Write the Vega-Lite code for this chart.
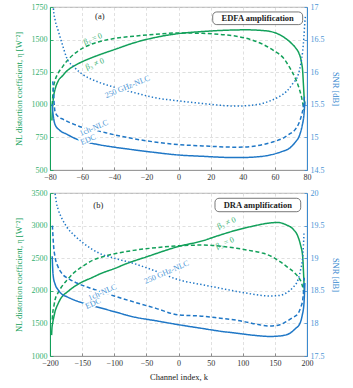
{
"$schema":"https://vega.github.io/schema/vega-lite/v6.json",
"background":"white",
"padding":{"left":13,"top":2,"right":4,"bottom":4},
"spacing":6,
"config":{
 "font":"Liberation Serif",
 "view":{"stroke":"#9a9a9a","strokeWidth":0.8},
 "axis":{"labelFont":"Liberation Serif","titleFont":"Liberation Serif","labelFontSize":8,"titleFontSize":8.5,"titleFontWeight":"normal","ticks":true,"tickSize":-3,"tickWidth":0.8,"labelPadding":6,"labelOverlap":false,"tickCount":30,"gridDash":[3,2.5],"gridColor":"#d2d2d2","gridWidth":0.7,"domainWidth":1}
},
"datasets":{
 "curves":[
  {"p":"a","ax":"L","s":"b3ne0","k":-78.8,"v":880},{"p":"a","ax":"L","s":"b3ne0","k":-78.6,"v":940},{"p":"a","ax":"L","s":"b3ne0","k":-78.3,"v":1000},{"p":"a","ax":"L","s":"b3ne0","k":-77.8,"v":1060},{"p":"a","ax":"L","s":"b3ne0","k":-76.8,"v":1120},{"p":"a","ax":"L","s":"b3ne0","k":-75,"v":1180},{"p":"a","ax":"L","s":"b3ne0","k":-72,"v":1225},{"p":"a","ax":"L","s":"b3ne0","k":-69.6,"v":1258},{"p":"a","ax":"L","s":"b3ne0","k":-65,"v":1298},{"p":"a","ax":"L","s":"b3ne0","k":-59.3,"v":1334},{"p":"a","ax":"L","s":"b3ne0","k":-50,"v":1380},{"p":"a","ax":"L","s":"b3ne0","k":-40,"v":1423},{"p":"a","ax":"L","s":"b3ne0","k":-28,"v":1474},{"p":"a","ax":"L","s":"b3ne0","k":-15,"v":1515},{"p":"a","ax":"L","s":"b3ne0","k":0,"v":1546},{"p":"a","ax":"L","s":"b3ne0","k":15,"v":1562},{"p":"a","ax":"L","s":"b3ne0","k":30,"v":1572},{"p":"a","ax":"L","s":"b3ne0","k":42,"v":1575},{"p":"a","ax":"L","s":"b3ne0","k":52,"v":1570},{"p":"a","ax":"L","s":"b3ne0","k":60,"v":1553},{"p":"a","ax":"L","s":"b3ne0","k":66,"v":1515},{"p":"a","ax":"L","s":"b3ne0","k":70,"v":1475},{"p":"a","ax":"L","s":"b3ne0","k":73,"v":1435},{"p":"a","ax":"L","s":"b3ne0","k":75,"v":1395},{"p":"a","ax":"L","s":"b3ne0","k":76.5,"v":1330},{"p":"a","ax":"L","s":"b3ne0","k":77.3,"v":1258},{"p":"a","ax":"L","s":"b3ne0","k":77.8,"v":1150},{"p":"a","ax":"L","s":"b3ne0","k":78.2,"v":1060},{"p":"a","ax":"L","s":"b3ne0","k":78.5,"v":1000},
  {"p":"a","ax":"L","s":"b3eq0","k":-78.7,"v":1000},{"p":"a","ax":"L","s":"b3eq0","k":-78.3,"v":1060},{"p":"a","ax":"L","s":"b3eq0","k":-78,"v":1118},{"p":"a","ax":"L","s":"b3eq0","k":-77,"v":1180},{"p":"a","ax":"L","s":"b3eq0","k":-74.8,"v":1245},{"p":"a","ax":"L","s":"b3eq0","k":-72,"v":1295},{"p":"a","ax":"L","s":"b3eq0","k":-69.6,"v":1334},{"p":"a","ax":"L","s":"b3eq0","k":-65,"v":1390},{"p":"a","ax":"L","s":"b3eq0","k":-59.3,"v":1436},{"p":"a","ax":"L","s":"b3eq0","k":-50,"v":1482},{"p":"a","ax":"L","s":"b3eq0","k":-40,"v":1508},{"p":"a","ax":"L","s":"b3eq0","k":-28,"v":1526},{"p":"a","ax":"L","s":"b3eq0","k":-15,"v":1540},{"p":"a","ax":"L","s":"b3eq0","k":0,"v":1551},{"p":"a","ax":"L","s":"b3eq0","k":15,"v":1548},{"p":"a","ax":"L","s":"b3eq0","k":25,"v":1540},{"p":"a","ax":"L","s":"b3eq0","k":36,"v":1526},{"p":"a","ax":"L","s":"b3eq0","k":45,"v":1500},{"p":"a","ax":"L","s":"b3eq0","k":52.8,"v":1462},{"p":"a","ax":"L","s":"b3eq0","k":60,"v":1410},{"p":"a","ax":"L","s":"b3eq0","k":65.2,"v":1360},{"p":"a","ax":"L","s":"b3eq0","k":69,"v":1290},{"p":"a","ax":"L","s":"b3eq0","k":72.6,"v":1207},{"p":"a","ax":"L","s":"b3eq0","k":75,"v":1130},{"p":"a","ax":"L","s":"b3eq0","k":76.7,"v":1053},{"p":"a","ax":"L","s":"b3eq0","k":77.7,"v":990},{"p":"a","ax":"L","s":"b3eq0","k":78.2,"v":960},
  {"p":"a","ax":"R","s":"g250","k":-78.3,"v":17.2},{"p":"a","ax":"R","s":"g250","k":-77.9,"v":16.98},{"p":"a","ax":"R","s":"g250","k":-76.8,"v":16.8},{"p":"a","ax":"R","s":"g250","k":-74.8,"v":16.63},{"p":"a","ax":"R","s":"g250","k":-72,"v":16.4},{"p":"a","ax":"R","s":"g250","k":-69.6,"v":16.22},{"p":"a","ax":"R","s":"g250","k":-65,"v":16.08},{"p":"a","ax":"R","s":"g250","k":-59.3,"v":15.96},{"p":"a","ax":"R","s":"g250","k":-50,"v":15.85},{"p":"a","ax":"R","s":"g250","k":-40,"v":15.77},{"p":"a","ax":"R","s":"g250","k":-28,"v":15.69},{"p":"a","ax":"R","s":"g250","k":-15,"v":15.61},{"p":"a","ax":"R","s":"g250","k":0,"v":15.56},{"p":"a","ax":"R","s":"g250","k":15,"v":15.52},{"p":"a","ax":"R","s":"g250","k":36,"v":15.48},{"p":"a","ax":"R","s":"g250","k":48,"v":15.5},{"p":"a","ax":"R","s":"g250","k":57,"v":15.56},{"p":"a","ax":"R","s":"g250","k":63,"v":15.63},{"p":"a","ax":"R","s":"g250","k":67.4,"v":15.71},{"p":"a","ax":"R","s":"g250","k":71,"v":15.82},{"p":"a","ax":"R","s":"g250","k":74.6,"v":15.97},{"p":"a","ax":"R","s":"g250","k":76.3,"v":16.15},{"p":"a","ax":"R","s":"g250","k":77.3,"v":16.32},{"p":"a","ax":"R","s":"g250","k":78.1,"v":16.55},{"p":"a","ax":"R","s":"g250","k":78.7,"v":16.78},{"p":"a","ax":"R","s":"g250","k":79,"v":16.85},
  {"p":"a","ax":"R","s":"ch1","k":-78.3,"v":15.86},{"p":"a","ax":"R","s":"ch1","k":-78,"v":15.78},{"p":"a","ax":"R","s":"ch1","k":-77.5,"v":15.55},{"p":"a","ax":"R","s":"ch1","k":-76.9,"v":15.4},{"p":"a","ax":"R","s":"ch1","k":-75,"v":15.32},{"p":"a","ax":"R","s":"ch1","k":-72,"v":15.28},{"p":"a","ax":"R","s":"ch1","k":-69.6,"v":15.25},{"p":"a","ax":"R","s":"ch1","k":-65,"v":15.2},{"p":"a","ax":"R","s":"ch1","k":-59.3,"v":15.15},{"p":"a","ax":"R","s":"ch1","k":-50,"v":15.1},{"p":"a","ax":"R","s":"ch1","k":-40,"v":15.04},{"p":"a","ax":"R","s":"ch1","k":-28,"v":14.98},{"p":"a","ax":"R","s":"ch1","k":-15,"v":14.93},{"p":"a","ax":"R","s":"ch1","k":0,"v":14.89},{"p":"a","ax":"R","s":"ch1","k":15,"v":14.87},{"p":"a","ax":"R","s":"ch1","k":36,"v":14.85},{"p":"a","ax":"R","s":"ch1","k":45,"v":14.86},{"p":"a","ax":"R","s":"ch1","k":52.7,"v":14.89},{"p":"a","ax":"R","s":"ch1","k":60,"v":14.94},{"p":"a","ax":"R","s":"ch1","k":65.3,"v":14.99},{"p":"a","ax":"R","s":"ch1","k":69,"v":15.05},{"p":"a","ax":"R","s":"ch1","k":72.6,"v":15.12},{"p":"a","ax":"R","s":"ch1","k":75,"v":15.22},{"p":"a","ax":"R","s":"ch1","k":76.7,"v":15.35},{"p":"a","ax":"R","s":"ch1","k":77.6,"v":15.45},{"p":"a","ax":"R","s":"ch1","k":78.1,"v":15.56},{"p":"a","ax":"R","s":"ch1","k":78.5,"v":15.65},
  {"p":"a","ax":"R","s":"edc","k":-78.7,"v":15.51},{"p":"a","ax":"R","s":"edc","k":-78.3,"v":15.4},{"p":"a","ax":"R","s":"edc","k":-77.8,"v":15.3},{"p":"a","ax":"R","s":"edc","k":-76.9,"v":15.2},{"p":"a","ax":"R","s":"edc","k":-74,"v":15.11},{"p":"a","ax":"R","s":"edc","k":-69.6,"v":15.05},{"p":"a","ax":"R","s":"edc","k":-65,"v":14.99},{"p":"a","ax":"R","s":"edc","k":-59.3,"v":14.94},{"p":"a","ax":"R","s":"edc","k":-50,"v":14.89},{"p":"a","ax":"R","s":"edc","k":-40,"v":14.85},{"p":"a","ax":"R","s":"edc","k":-28,"v":14.81},{"p":"a","ax":"R","s":"edc","k":-15,"v":14.77},{"p":"a","ax":"R","s":"edc","k":0,"v":14.73},{"p":"a","ax":"R","s":"edc","k":15,"v":14.71},{"p":"a","ax":"R","s":"edc","k":36,"v":14.69},{"p":"a","ax":"R","s":"edc","k":48,"v":14.7},{"p":"a","ax":"R","s":"edc","k":57,"v":14.73},{"p":"a","ax":"R","s":"edc","k":64,"v":14.78},{"p":"a","ax":"R","s":"edc","k":69.4,"v":14.84},{"p":"a","ax":"R","s":"edc","k":72.5,"v":14.92},{"p":"a","ax":"R","s":"edc","k":75.6,"v":15.05},{"p":"a","ax":"R","s":"edc","k":77,"v":15.18},{"p":"a","ax":"R","s":"edc","k":78.1,"v":15.35},{"p":"a","ax":"R","s":"edc","k":78.7,"v":15.55},
  {"p":"b","ax":"L","s":"b3ne0","k":-197.5,"v":1320},{"p":"b","ax":"L","s":"b3ne0","k":-197,"v":1420},{"p":"b","ax":"L","s":"b3ne0","k":-195.8,"v":1510},{"p":"b","ax":"L","s":"b3ne0","k":-194,"v":1600},{"p":"b","ax":"L","s":"b3ne0","k":-192.2,"v":1680},{"p":"b","ax":"L","s":"b3ne0","k":-188,"v":1790},{"p":"b","ax":"L","s":"b3ne0","k":-184,"v":1870},{"p":"b","ax":"L","s":"b3ne0","k":-180,"v":1925},{"p":"b","ax":"L","s":"b3ne0","k":-174,"v":1975},{"p":"b","ax":"L","s":"b3ne0","k":-165,"v":2045},{"p":"b","ax":"L","s":"b3ne0","k":-153,"v":2120},{"p":"b","ax":"L","s":"b3ne0","k":-135,"v":2200},{"p":"b","ax":"L","s":"b3ne0","k":-122,"v":2260},{"p":"b","ax":"L","s":"b3ne0","k":-100,"v":2340},{"p":"b","ax":"L","s":"b3ne0","k":-80,"v":2420},{"p":"b","ax":"L","s":"b3ne0","k":-50,"v":2520},{"p":"b","ax":"L","s":"b3ne0","k":0,"v":2680},{"p":"b","ax":"L","s":"b3ne0","k":38.6,"v":2770},{"p":"b","ax":"L","s":"b3ne0","k":60,"v":2840},{"p":"b","ax":"L","s":"b3ne0","k":90,"v":2930},{"p":"b","ax":"L","s":"b3ne0","k":115,"v":2990},{"p":"b","ax":"L","s":"b3ne0","k":142,"v":3040},{"p":"b","ax":"L","s":"b3ne0","k":155,"v":3048},{"p":"b","ax":"L","s":"b3ne0","k":168,"v":3010},{"p":"b","ax":"L","s":"b3ne0","k":178,"v":2950},{"p":"b","ax":"L","s":"b3ne0","k":186,"v":2830},{"p":"b","ax":"L","s":"b3ne0","k":190,"v":2700},{"p":"b","ax":"L","s":"b3ne0","k":193.3,"v":2523},{"p":"b","ax":"L","s":"b3ne0","k":194.5,"v":2300},{"p":"b","ax":"L","s":"b3ne0","k":195.3,"v":2115},{"p":"b","ax":"L","s":"b3ne0","k":195.8,"v":2000},
  {"p":"b","ax":"L","s":"b3eq0","k":-196.5,"v":1560},{"p":"b","ax":"L","s":"b3eq0","k":-195.8,"v":1655},{"p":"b","ax":"L","s":"b3eq0","k":-194,"v":1760},{"p":"b","ax":"L","s":"b3eq0","k":-192.2,"v":1859},{"p":"b","ax":"L","s":"b3eq0","k":-188,"v":1960},{"p":"b","ax":"L","s":"b3eq0","k":-181.8,"v":2063},{"p":"b","ax":"L","s":"b3eq0","k":-173,"v":2170},{"p":"b","ax":"L","s":"b3eq0","k":-163.7,"v":2268},{"p":"b","ax":"L","s":"b3eq0","k":-150,"v":2370},{"p":"b","ax":"L","s":"b3eq0","k":-132.6,"v":2472},{"p":"b","ax":"L","s":"b3eq0","k":-115,"v":2530},{"p":"b","ax":"L","s":"b3eq0","k":-96,"v":2575},{"p":"b","ax":"L","s":"b3eq0","k":-70,"v":2620},{"p":"b","ax":"L","s":"b3eq0","k":-44,"v":2652},{"p":"b","ax":"L","s":"b3eq0","k":0,"v":2690},{"p":"b","ax":"L","s":"b3eq0","k":38.6,"v":2702},{"p":"b","ax":"L","s":"b3eq0","k":65,"v":2685},{"p":"b","ax":"L","s":"b3eq0","k":90.6,"v":2652},{"p":"b","ax":"L","s":"b3eq0","k":115,"v":2610},{"p":"b","ax":"L","s":"b3eq0","k":132,"v":2575},{"p":"b","ax":"L","s":"b3eq0","k":146,"v":2520},{"p":"b","ax":"L","s":"b3eq0","k":158,"v":2446},{"p":"b","ax":"L","s":"b3eq0","k":170,"v":2360},{"p":"b","ax":"L","s":"b3eq0","k":181.4,"v":2268},{"p":"b","ax":"L","s":"b3eq0","k":188,"v":2190},{"p":"b","ax":"L","s":"b3eq0","k":191.7,"v":2115},{"p":"b","ax":"L","s":"b3eq0","k":194.3,"v":2012},{"p":"b","ax":"L","s":"b3eq0","k":195.5,"v":1950},
  {"p":"b","ax":"R","s":"g250","k":-193.5,"v":20.1},{"p":"b","ax":"R","s":"g250","k":-192.2,"v":20.0},{"p":"b","ax":"R","s":"g250","k":-190,"v":19.85},{"p":"b","ax":"R","s":"g250","k":-187,"v":19.74},{"p":"b","ax":"R","s":"g250","k":-181,"v":19.6},{"p":"b","ax":"R","s":"g250","k":-174,"v":19.48},{"p":"b","ax":"R","s":"g250","k":-162,"v":19.35},{"p":"b","ax":"R","s":"g250","k":-148,"v":19.23},{"p":"b","ax":"R","s":"g250","k":-135,"v":19.14},{"p":"b","ax":"R","s":"g250","k":-122,"v":19.07},{"p":"b","ax":"R","s":"g250","k":-100,"v":19.0},{"p":"b","ax":"R","s":"g250","k":-70,"v":18.92},{"p":"b","ax":"R","s":"g250","k":-35,"v":18.8},{"p":"b","ax":"R","s":"g250","k":0,"v":18.67},{"p":"b","ax":"R","s":"g250","k":38.6,"v":18.59},{"p":"b","ax":"R","s":"g250","k":65,"v":18.54},{"p":"b","ax":"R","s":"g250","k":90.6,"v":18.49},{"p":"b","ax":"R","s":"g250","k":115,"v":18.45},{"p":"b","ax":"R","s":"g250","k":142,"v":18.42},{"p":"b","ax":"R","s":"g250","k":158,"v":18.43},{"p":"b","ax":"R","s":"g250","k":168,"v":18.47},{"p":"b","ax":"R","s":"g250","k":178,"v":18.55},{"p":"b","ax":"R","s":"g250","k":186,"v":18.67},{"p":"b","ax":"R","s":"g250","k":190,"v":18.82},{"p":"b","ax":"R","s":"g250","k":193.3,"v":19.02},{"p":"b","ax":"R","s":"g250","k":194.5,"v":19.2},{"p":"b","ax":"R","s":"g250","k":195.3,"v":19.38},
  {"p":"b","ax":"R","s":"ch1","k":-196.3,"v":19.5},{"p":"b","ax":"R","s":"ch1","k":-195.8,"v":19.41},{"p":"b","ax":"R","s":"ch1","k":-194.5,"v":19.2},{"p":"b","ax":"R","s":"ch1","k":-192.2,"v":19.02},{"p":"b","ax":"R","s":"ch1","k":-188,"v":18.88},{"p":"b","ax":"R","s":"ch1","k":-181.8,"v":18.77},{"p":"b","ax":"R","s":"ch1","k":-170,"v":18.68},{"p":"b","ax":"R","s":"ch1","k":-158.5,"v":18.62},{"p":"b","ax":"R","s":"ch1","k":-140,"v":18.55},{"p":"b","ax":"R","s":"ch1","k":-122,"v":18.49},{"p":"b","ax":"R","s":"ch1","k":-100,"v":18.42},{"p":"b","ax":"R","s":"ch1","k":-70,"v":18.33},{"p":"b","ax":"R","s":"ch1","k":-35,"v":18.23},{"p":"b","ax":"R","s":"ch1","k":0,"v":18.13},{"p":"b","ax":"R","s":"ch1","k":38.6,"v":18.11},{"p":"b","ax":"R","s":"ch1","k":65,"v":18.08},{"p":"b","ax":"R","s":"ch1","k":90.6,"v":18.05},{"p":"b","ax":"R","s":"ch1","k":115,"v":18.0},{"p":"b","ax":"R","s":"ch1","k":142,"v":17.96},{"p":"b","ax":"R","s":"ch1","k":158,"v":17.98},{"p":"b","ax":"R","s":"ch1","k":168,"v":18.03},{"p":"b","ax":"R","s":"ch1","k":178,"v":18.09},{"p":"b","ax":"R","s":"ch1","k":186,"v":18.15},{"p":"b","ax":"R","s":"ch1","k":190,"v":18.24},{"p":"b","ax":"R","s":"ch1","k":193.3,"v":18.36},{"p":"b","ax":"R","s":"ch1","k":194.5,"v":18.48},{"p":"b","ax":"R","s":"ch1","k":195.3,"v":18.61},{"p":"b","ax":"R","s":"ch1","k":195.8,"v":18.7},
  {"p":"b","ax":"R","s":"edc","k":-196.6,"v":19.03},{"p":"b","ax":"R","s":"edc","k":-196.2,"v":18.93},{"p":"b","ax":"R","s":"edc","k":-195.6,"v":18.8},{"p":"b","ax":"R","s":"edc","k":-194.9,"v":18.72},{"p":"b","ax":"R","s":"edc","k":-192,"v":18.6},{"p":"b","ax":"R","s":"edc","k":-187,"v":18.51},{"p":"b","ax":"R","s":"edc","k":-181.8,"v":18.45},{"p":"b","ax":"R","s":"edc","k":-174,"v":18.41},{"p":"b","ax":"R","s":"edc","k":-160,"v":18.35},{"p":"b","ax":"R","s":"edc","k":-148,"v":18.31},{"p":"b","ax":"R","s":"edc","k":-122,"v":18.24},{"p":"b","ax":"R","s":"edc","k":-100,"v":18.18},{"p":"b","ax":"R","s":"edc","k":-70,"v":18.1},{"p":"b","ax":"R","s":"edc","k":-35,"v":18.04},{"p":"b","ax":"R","s":"edc","k":0,"v":17.98},{"p":"b","ax":"R","s":"edc","k":38.6,"v":17.92},{"p":"b","ax":"R","s":"edc","k":65,"v":17.88},{"p":"b","ax":"R","s":"edc","k":90.6,"v":17.85},{"p":"b","ax":"R","s":"edc","k":115,"v":17.82},{"p":"b","ax":"R","s":"edc","k":142,"v":17.8},{"p":"b","ax":"R","s":"edc","k":160,"v":17.81},{"p":"b","ax":"R","s":"edc","k":173.5,"v":17.85},{"p":"b","ax":"R","s":"edc","k":182,"v":17.92},{"p":"b","ax":"R","s":"edc","k":189,"v":18.0},{"p":"b","ax":"R","s":"edc","k":192.5,"v":18.12},{"p":"b","ax":"R","s":"edc","k":195.3,"v":18.31},{"p":"b","ax":"R","s":"edc","k":196.3,"v":18.51},{"p":"b","ax":"R","s":"edc","k":196.7,"v":18.62}
 ],
 "labels":[
  {"p":"a","ax":"L","id":"a_b0","t":"β₃ = 0","k":-53.2,"v":1503},
  {"p":"a","ax":"L","id":"a_bn","t":"β₃ ≠ 0","k":-52,"v":1311},
  {"p":"a","ax":"R","id":"a_250","t":"250 GHz-NLC","k":-31.75,"v":15.77},
  {"p":"a","ax":"R","id":"a_1ch","t":"1ch-NLC","k":-52.6,"v":15.14},
  {"p":"a","ax":"R","id":"a_edc","t":"EDC","k":-56.2,"v":14.96},
  {"p":"b","ax":"L","id":"b_bn","t":"β₃ ≠ 0","k":75,"v":3035},
  {"p":"b","ax":"L","id":"b_b0","t":"β₃ = 0","k":72.4,"v":2728},
  {"p":"b","ax":"R","id":"b_250","t":"250 GHz-NLC","k":-18.4,"v":18.78},
  {"p":"b","ax":"R","id":"b_1ch","t":"1ch-NLC","k":-118.3,"v":18.47},
  {"p":"b","ax":"R","id":"b_edc","t":"EDC","k":-132.6,"v":18.3}
 ],
 "tags":[
  {"p":"a","t":"(a)","k":-49,"v":1680},
  {"p":"b","t":"(b)","k":-124.8,"v":3316}
 ],
 "boxes":[
  {"p":"a","t":"EDFA amplification","k1":21.3,"k2":77.3,"v1":1712,"v2":1615,"k":49.3,"v":1663},
  {"p":"b","t":"DRA amplification","k1":56.8,"k2":190.2,"v1":3419,"v2":3213,"k":123.5,"v":3316}
 ]
},
"vconcat":[
 {
  "width":257,"height":163,
  "resolve":{"scale":{"y":"independent"}},
  "layer":[
   {"layer":[
    {"data":{"name":"curves"},"transform":[{"filter":"datum.p=='a' && datum.ax=='L'"}],
     "mark":{"type":"line","clip":true,"strokeWidth":1.5,"interpolate":"monotone"},
     "encoding":{
      "x":{"field":"k","type":"quantitative","scale":{"domain":[-80,80],"nice":false,"zero":false},"axis":{"title":null,"values":[-80,-60,-40,-20,0,20,40,60,80],"format":"d","grid":true,"labelFlush":false,"domainColor":"#9a9a9a","tickColor":"#777777","labelColor":"#333333"}},
      "y":{"field":"v","type":"quantitative","scale":{"domain":[500,1750],"nice":false,"zero":false},"axis":{"title":"NL distortion coefficient, η [W⁻²]","values":[500,750,1000,1250,1500,1750],"format":"d","grid":true,"labelColor":"#35b070","titleColor":"#12a05a","domainColor":"#12a05a","tickColor":"#12a05a","titlePadding":8}},
      "color":{"field":"s","type":"nominal","scale":{"domain":["b3ne0","b3eq0","edc","ch1","g250"],"range":["#12a05a","#12a05a","#1f77c6","#1f77c6","#1f77c6"]},"legend":null},
      "strokeDash":{"field":"s","type":"nominal","scale":{"domain":["b3ne0","b3eq0","edc","ch1","g250"],"range":[[1,0],[4,2.5],[1,0],[4,2.5],[1.4,2.2]]},"legend":null}
     }},
    {"data":{"name":"labels"},"transform":[{"filter":"datum.p=='a' && datum.ax=='L'"}],
     "mark":{"type":"text","fontSize":8,"fill":"#35b070"},
     "encoding":{
      "x":{"field":"k","type":"quantitative","scale":{"domain":[-80,80],"nice":false,"zero":false}},
      "y":{"field":"v","type":"quantitative","scale":{"domain":[500,1750],"nice":false,"zero":false}},
      "text":{"field":"t"},
      "angle":{"field":"id","type":"nominal","scale":{"domain":["a_b0","a_bn","a_250","a_1ch","a_edc","b_bn","b_b0","b_250","b_1ch","b_edc"],"range":[338,336,11,16,14,345,350,19,19,18]},"legend":null}
     }},
    {"data":{"name":"tags"},"transform":[{"filter":"datum.p=='a'"}],
     "mark":{"type":"text","fontSize":8.5,"fill":"#222222"},
     "encoding":{
      "x":{"field":"k","type":"quantitative","scale":{"domain":[-80,80],"nice":false,"zero":false}},
      "y":{"field":"v","type":"quantitative","scale":{"domain":[500,1750],"nice":false,"zero":false}},
      "text":{"field":"t"}
     }},
    {"data":{"name":"boxes"},"transform":[{"filter":"datum.p=='a'"}],
     "mark":{"type":"rect","fill":"white","stroke":"#555555","strokeWidth":0.8,"cornerRadius":4},
     "encoding":{
      "x":{"field":"k1","type":"quantitative","scale":{"domain":[-80,80],"nice":false,"zero":false}},
      "x2":{"field":"k2"},
      "y":{"field":"v1","type":"quantitative","scale":{"domain":[500,1750],"nice":false,"zero":false}},
      "y2":{"field":"v2"}
     }},
    {"data":{"name":"boxes"},"transform":[{"filter":"datum.p=='a'"}],
     "mark":{"type":"text","fontSize":8.5,"fontWeight":"bold","fill":"#222222"},
     "encoding":{
      "x":{"field":"k","type":"quantitative","scale":{"domain":[-80,80],"nice":false,"zero":false}},
      "y":{"field":"v","type":"quantitative","scale":{"domain":[500,1750],"nice":false,"zero":false}},
      "text":{"field":"t"}
     }}
   ]},
   {"layer":[
    {"data":{"name":"curves"},"transform":[{"filter":"datum.p=='a' && datum.ax=='R'"}],
     "mark":{"type":"line","clip":true,"strokeWidth":1.5,"interpolate":"monotone"},
     "encoding":{
      "x":{"field":"k","type":"quantitative","scale":{"domain":[-80,80],"nice":false,"zero":false}},
      "y":{"field":"v","type":"quantitative","scale":{"domain":[14.5,17],"nice":false,"zero":false},"axis":{"title":"SNR [dB]","orient":"right","values":[14.5,15,15.5,16,16.5,17],"format":"~g","grid":false,"labelColor":"#4a95d5","titleColor":"#3a8ad0","domainColor":"#3a8ad0","tickColor":"#3a8ad0","titlePadding":6}},
      "color":{"field":"s","type":"nominal","scale":{"domain":["b3ne0","b3eq0","edc","ch1","g250"],"range":["#12a05a","#12a05a","#1f77c6","#1f77c6","#1f77c6"]},"legend":null},
      "strokeDash":{"field":"s","type":"nominal","scale":{"domain":["b3ne0","b3eq0","edc","ch1","g250"],"range":[[1,0],[4,2.5],[1,0],[4,2.5],[1.4,2.2]]},"legend":null}
     }},
    {"data":{"name":"labels"},"transform":[{"filter":"datum.p=='a' && datum.ax=='R'"}],
     "mark":{"type":"text","fontSize":8,"fill":"white","stroke":"white","strokeWidth":3},
     "encoding":{
      "x":{"field":"k","type":"quantitative","scale":{"domain":[-80,80],"nice":false,"zero":false}},
      "y":{"field":"v","type":"quantitative","scale":{"domain":[14.5,17],"nice":false,"zero":false}},
      "text":{"field":"t"},
      "angle":{"field":"id","type":"nominal","scale":{"domain":["a_b0","a_bn","a_250","a_1ch","a_edc","b_bn","b_b0","b_250","b_1ch","b_edc"],"range":[338,336,11,16,14,345,350,19,19,18]},"legend":null}
     }},
    {"data":{"name":"labels"},"transform":[{"filter":"datum.p=='a' && datum.ax=='R'"}],
     "mark":{"type":"text","fontSize":8,"fill":"#4a95d5"},
     "encoding":{
      "x":{"field":"k","type":"quantitative","scale":{"domain":[-80,80],"nice":false,"zero":false}},
      "y":{"field":"v","type":"quantitative","scale":{"domain":[14.5,17],"nice":false,"zero":false}},
      "text":{"field":"t"},
      "angle":{"field":"id","type":"nominal","scale":{"domain":["a_b0","a_bn","a_250","a_1ch","a_edc","b_bn","b_b0","b_250","b_1ch","b_edc"],"range":[338,336,11,16,14,345,350,19,19,18]},"legend":null}
     }}
   ]}
  ]
 },
 {
  "width":257,"height":163,
  "resolve":{"scale":{"y":"independent"}},
  "layer":[
   {"layer":[
    {"data":{"name":"curves"},"transform":[{"filter":"datum.p=='b' && datum.ax=='L'"}],
     "mark":{"type":"line","clip":true,"strokeWidth":1.5,"interpolate":"monotone"},
     "encoding":{
      "x":{"field":"k","type":"quantitative","scale":{"domain":[-200,200],"nice":false,"zero":false},"axis":{"title":"Channel index, k","values":[-200,-150,-100,-50,0,50,100,150,200],"format":"d","grid":true,"labelFlush":false,"domainColor":"#9a9a9a","tickColor":"#777777","labelColor":"#333333","titleColor":"#222222","titlePadding":5}},
      "y":{"field":"v","type":"quantitative","scale":{"domain":[1000,3500],"nice":false,"zero":false},"axis":{"title":"NL distortion coefficient, η [W⁻²]","values":[1000,1500,2000,2500,3000,3500],"format":"d","grid":true,"labelColor":"#35b070","titleColor":"#12a05a","domainColor":"#12a05a","tickColor":"#12a05a","titlePadding":8}},
      "color":{"field":"s","type":"nominal","scale":{"domain":["b3ne0","b3eq0","edc","ch1","g250"],"range":["#12a05a","#12a05a","#1f77c6","#1f77c6","#1f77c6"]},"legend":null},
      "strokeDash":{"field":"s","type":"nominal","scale":{"domain":["b3ne0","b3eq0","edc","ch1","g250"],"range":[[1,0],[4,2.5],[1,0],[4,2.5],[1.4,2.2]]},"legend":null}
     }},
    {"data":{"name":"labels"},"transform":[{"filter":"datum.p=='b' && datum.ax=='L'"}],
     "mark":{"type":"text","fontSize":8,"fill":"#35b070"},
     "encoding":{
      "x":{"field":"k","type":"quantitative","scale":{"domain":[-200,200],"nice":false,"zero":false}},
      "y":{"field":"v","type":"quantitative","scale":{"domain":[1000,3500],"nice":false,"zero":false}},
      "text":{"field":"t"},
      "angle":{"field":"id","type":"nominal","scale":{"domain":["a_b0","a_bn","a_250","a_1ch","a_edc","b_bn","b_b0","b_250","b_1ch","b_edc"],"range":[338,336,11,16,14,345,350,19,19,18]},"legend":null}
     }},
    {"data":{"name":"tags"},"transform":[{"filter":"datum.p=='b'"}],
     "mark":{"type":"text","fontSize":8.5,"fill":"#222222"},
     "encoding":{
      "x":{"field":"k","type":"quantitative","scale":{"domain":[-200,200],"nice":false,"zero":false}},
      "y":{"field":"v","type":"quantitative","scale":{"domain":[1000,3500],"nice":false,"zero":false}},
      "text":{"field":"t"}
     }},
    {"data":{"name":"boxes"},"transform":[{"filter":"datum.p=='b'"}],
     "mark":{"type":"rect","fill":"white","stroke":"#555555","strokeWidth":0.8,"cornerRadius":4},
     "encoding":{
      "x":{"field":"k1","type":"quantitative","scale":{"domain":[-200,200],"nice":false,"zero":false}},
      "x2":{"field":"k2"},
      "y":{"field":"v1","type":"quantitative","scale":{"domain":[1000,3500],"nice":false,"zero":false}},
      "y2":{"field":"v2"}
     }},
    {"data":{"name":"boxes"},"transform":[{"filter":"datum.p=='b'"}],
     "mark":{"type":"text","fontSize":8.5,"fontWeight":"bold","fill":"#222222"},
     "encoding":{
      "x":{"field":"k","type":"quantitative","scale":{"domain":[-200,200],"nice":false,"zero":false}},
      "y":{"field":"v","type":"quantitative","scale":{"domain":[1000,3500],"nice":false,"zero":false}},
      "text":{"field":"t"}
     }}
   ]},
   {"layer":[
    {"data":{"name":"curves"},"transform":[{"filter":"datum.p=='b' && datum.ax=='R'"}],
     "mark":{"type":"line","clip":true,"strokeWidth":1.5,"interpolate":"monotone"},
     "encoding":{
      "x":{"field":"k","type":"quantitative","scale":{"domain":[-200,200],"nice":false,"zero":false}},
      "y":{"field":"v","type":"quantitative","scale":{"domain":[17.5,20],"nice":false,"zero":false},"axis":{"title":"SNR [dB]","orient":"right","values":[17.5,18,18.5,19,19.5,20],"format":"~g","grid":false,"labelColor":"#4a95d5","titleColor":"#3a8ad0","domainColor":"#3a8ad0","tickColor":"#3a8ad0","titlePadding":6}},
      "color":{"field":"s","type":"nominal","scale":{"domain":["b3ne0","b3eq0","edc","ch1","g250"],"range":["#12a05a","#12a05a","#1f77c6","#1f77c6","#1f77c6"]},"legend":null},
      "strokeDash":{"field":"s","type":"nominal","scale":{"domain":["b3ne0","b3eq0","edc","ch1","g250"],"range":[[1,0],[4,2.5],[1,0],[4,2.5],[1.4,2.2]]},"legend":null}
     }},
    {"data":{"name":"labels"},"transform":[{"filter":"datum.p=='b' && datum.ax=='R'"}],
     "mark":{"type":"text","fontSize":8,"fill":"white","stroke":"white","strokeWidth":3},
     "encoding":{
      "x":{"field":"k","type":"quantitative","scale":{"domain":[-200,200],"nice":false,"zero":false}},
      "y":{"field":"v","type":"quantitative","scale":{"domain":[17.5,20],"nice":false,"zero":false}},
      "text":{"field":"t"},
      "angle":{"field":"id","type":"nominal","scale":{"domain":["a_b0","a_bn","a_250","a_1ch","a_edc","b_bn","b_b0","b_250","b_1ch","b_edc"],"range":[338,336,11,16,14,345,350,19,19,18]},"legend":null}
     }},
    {"data":{"name":"labels"},"transform":[{"filter":"datum.p=='b' && datum.ax=='R'"}],
     "mark":{"type":"text","fontSize":8,"fill":"#4a95d5"},
     "encoding":{
      "x":{"field":"k","type":"quantitative","scale":{"domain":[-200,200],"nice":false,"zero":false}},
      "y":{"field":"v","type":"quantitative","scale":{"domain":[17.5,20],"nice":false,"zero":false}},
      "text":{"field":"t"},
      "angle":{"field":"id","type":"nominal","scale":{"domain":["a_b0","a_bn","a_250","a_1ch","a_edc","b_bn","b_b0","b_250","b_1ch","b_edc"],"range":[338,336,11,16,14,345,350,19,19,18]},"legend":null}
     }}
   ]}
  ]
 }
]
}
